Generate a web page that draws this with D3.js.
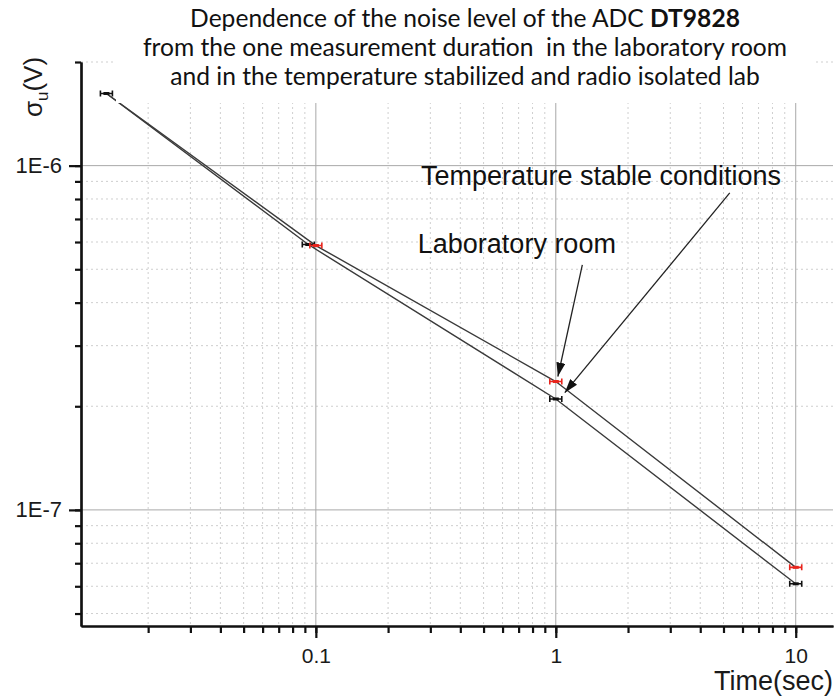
<!DOCTYPE html>
<html>
<head>
<meta charset="utf-8">
<script src="https://cdn.jsdelivr.net/npm/d3@7"></script>
<style>
  body { margin: 0; background: #fff; }
  svg { display: block; }
  .tick text { font-family: "Liberation Sans", Arial, sans-serif; fill: #1a1a1a; }
</style>
</head>
<body>
<svg id="chart" width="840" height="699"></svg>
<script>
// title
const titleLines = [
    ["Dependence of the noise level of the ADC ", "DT9828"],
    ["from the one measurement duration  in the laboratory room", ""],
    ["and in the temperature stabilized and radio isolated lab", ""]
];

// laboratory room (red)
const labTime = [0.0134, 0.1, 1, 10];
const labSigma = [1.62e-6, 5.86e-7, 2.36e-7, 6.81e-8];

// temperature stable conditions (black)
const stableTime = [0.0134, 0.093, 1, 10];
const stableSigma = [1.62e-6, 5.90e-7, 2.10e-7, 6.10e-8];

const xMajor = [0.1, 1, 10];
const xMajorLabels = ["0.1", "1", "10"];
const yMajor = [1e-7, 1e-6];
const yMajorLabels = ["1E-7", "1E-6"];

// annotations: [text, x, y] and arrows [x0, y0, x1, y1] in data units
const notes = [
    ["Temperature stable conditions", 0.274, 8.79e-7],
    ["Laboratory room", 0.266, 5.58e-7]
];
const arrows = [
    [1.29, 5.15e-7, 1.02, 2.44e-7],
    [5.31, 8.33e-7, 1.09, 2.19e-7]
];

const svg = d3.select('#chart');
const pLeft = 81, pRight = 833, pTop = 62, pBottom = 626;

const x = d3.scaleLog().domain([0.0105, 14.3]).range([pLeft, pRight]);
const y = d3.scaleLog().domain([4.6e-8, 2e-6]).range([pBottom, pTop]);

// grid
const grid = svg.append('g');
grid.selectAll('.vminor')
    .data(x.ticks().filter(d => !xMajor.some(m => Math.abs(m - d) / m < 1e-6)))
    .enter().append('line')
        .attr('x1', d => x(d)).attr('x2', d => x(d))
        .attr('y1', pTop).attr('y2', pBottom)
        .attr('stroke', '#cfcfcf').attr('stroke-dasharray', '2,3');
grid.selectAll('.hminor')
    .data(y.ticks().filter(d => !yMajor.some(m => Math.abs(m - d) / m < 1e-6)))
    .enter().append('line')
        .attr('x1', pLeft).attr('x2', pRight)
        .attr('y1', d => y(d)).attr('y2', d => y(d))
        .attr('stroke', '#cfcfcf').attr('stroke-dasharray', '2,3');
grid.selectAll('.vmajor')
    .data(xMajor)
    .enter().append('line')
        .attr('x1', d => x(d)).attr('x2', d => x(d))
        .attr('y1', pTop).attr('y2', pBottom)
        .attr('stroke', '#a8a8a8');
grid.selectAll('.hmajor')
    .data(yMajor)
    .enter().append('line')
        .attr('x1', pLeft).attr('x2', pRight)
        .attr('y1', d => y(d)).attr('y2', d => y(d))
        .attr('stroke', '#a8a8a8');

// series lines
const line = d3.line().x(d => x(d[0])).y(d => y(d[1]));
const stablePts = stableTime.map((t, i) => [t, stableSigma[i]]);
const labPts = labTime.map((t, i) => [t, labSigma[i]]);

[stablePts, labPts].forEach(pts => {
    svg.append('path')
        .datum(pts)
        .attr('d', line)
        .attr('fill', 'none')
        .attr('stroke', '#3a3a3a')
        .attr('stroke-width', 1.4);
});

// white box behind the title
svg.append('rect')
    .attr('x', 116).attr('y', 0)
    .attr('width', 700).attr('height', 103)
    .attr('fill', '#fff');

// markers (horizontal bar with caps)
function drawMarkers(pts, color) {
    const g = svg.append('g').selectAll('g')
        .data(pts)
        .enter().append('g')
            .attr('transform', d => 'translate(' + x(d[0]) + ',' + y(d[1]) + ')');
    g.append('path')
        .attr('d', 'M-6,0H6M-6,-3V3M6,-3V3')
        .attr('stroke', color).attr('stroke-width', 1.6).attr('fill', 'none');
    g.append('rect')
        .attr('x', -3).attr('y', -1.5).attr('width', 6).attr('height', 3)
        .attr('fill', color);
}
drawMarkers(stablePts, '#111');
drawMarkers(labPts.slice(1), '#e8241c');

// axes
const xAxisG = svg.append('g').attr('transform', 'translate(0,' + pBottom + ')');
xAxisG.append('g')
    .call(d3.axisBottom(x).tickValues(x.ticks()).tickSize(7).tickSizeOuter(0).tickFormat(''));
xAxisG.append('g')
    .call(d3.axisBottom(x).tickValues(xMajor).tickSize(12).tickSizeOuter(0).tickPadding(10)
        .tickFormat((d, i) => xMajorLabels[i]));

const yAxisG = svg.append('g').attr('transform', 'translate(' + pLeft + ',0)');
yAxisG.append('g')
    .call(d3.axisLeft(y).tickValues(y.ticks()).tickSize(6).tickSizeOuter(0).tickFormat(''));
yAxisG.append('g')
    .call(d3.axisLeft(y).tickValues(yMajor).tickSize(12).tickSizeOuter(0).tickPadding(7)
        .tickFormat((d, i) => yMajorLabels[i]));

svg.selectAll('.domain').attr('stroke', '#111').attr('stroke-width', 2.2);
svg.selectAll('.tick line').attr('stroke', '#111').attr('stroke-width', 2.2);
xAxisG.selectAll('.tick text').attr('font-size', 21);
yAxisG.selectAll('.tick text').attr('font-size', 22);

// axis titles
svg.append('text')
    .attr('x', 833).attr('y', 690)
    .attr('text-anchor', 'end')
    .attr('font-family', '"Liberation Sans", Arial, sans-serif')
    .attr('font-size', 27).attr('fill', '#1a1a1a')
    .text('Time(sec)');

const yLab = svg.append('text')
    .attr('transform', 'translate(42,87) rotate(-90)')
    .attr('text-anchor', 'middle')
    .attr('font-family', '"Liberation Sans", Arial, sans-serif')
    .attr('font-size', 26).attr('fill', '#1a1a1a');
yLab.append('tspan').text('σ');
yLab.append('tspan').attr('font-size', 17).attr('dy', 6).text('u');
yLab.append('tspan').attr('dy', -6).text('(V)');

// title
const title = svg.append('text')
    .attr('text-anchor', 'middle')
    .attr('font-family', 'Lato, "Open Sans", sans-serif')
    .attr('font-size', 24.6).attr('fill', '#111')
    .style('white-space', 'pre');
titleLines.forEach((l, i) => {
    title.append('tspan').attr('x', 465).attr('y', 27 + i * 29).text(l[0]);
    if (l[1]) title.append('tspan').attr('font-weight', 'bold').text(l[1]);
});

// annotations
svg.selectAll('.note')
    .data(notes)
    .enter().append('text')
        .attr('x', d => x(d[1])).attr('y', d => y(d[2]))
        .attr('font-family', '"Liberation Sans", Arial, sans-serif')
        .attr('font-size', 27).attr('fill', '#111')
        .text(d => d[0]);

svg.append('defs').append('marker')
    .attr('id', 'head')
    .attr('viewBox', '0 0 14 9')
    .attr('refX', 14).attr('refY', 4.5)
    .attr('markerWidth', 14).attr('markerHeight', 9)
    .attr('markerUnits', 'userSpaceOnUse')
    .attr('orient', 'auto')
    .append('path').attr('d', 'M0,0L14,4.5L0,9Z').attr('fill', '#111');

svg.selectAll('.arrow')
    .data(arrows)
    .enter().append('line')
        .attr('x1', d => x(d[0])).attr('y1', d => y(d[1]))
        .attr('x2', d => x(d[2])).attr('y2', d => y(d[3]))
        .attr('stroke', '#222').attr('stroke-width', 1.3)
        .attr('marker-end', 'url(#head)');
</script>
</body>
</html>
